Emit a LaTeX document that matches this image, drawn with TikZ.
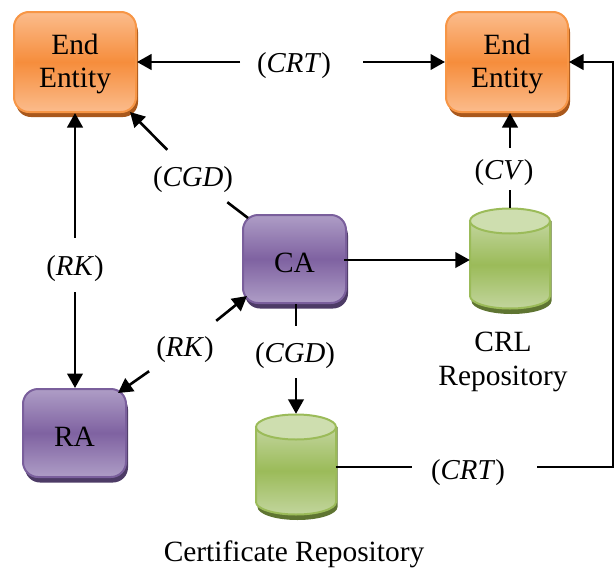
\documentclass[tikz,border=0pt]{standalone}
\usepackage{fontspec}
\setmainfont{Liberation Serif}
\usetikzlibrary{arrows.meta,shadows}
\definecolor{orL}{HTML}{FBBC8C}
\definecolor{orM}{HTML}{F68D3C}
\definecolor{orB}{HTML}{F79646}
\definecolor{orS}{HTML}{A9581C}
\definecolor{puL}{HTML}{AE9DC6}
\definecolor{puM}{HTML}{7F62A1}
\definecolor{puB}{HTML}{7A5F9C}
\definecolor{puS}{HTML}{4D3B66}
\definecolor{grL}{HTML}{C2D59D}
\definecolor{grM}{HTML}{9BBB59}
\definecolor{grB}{HTML}{9BBB59}
\definecolor{grT}{HTML}{CEDEAF}
\definecolor{grS}{HTML}{5F7532}
\pgfdeclareverticalshading{orshade}{100bp}{color(0bp)=(orL); color(25bp)=(orL); color(50bp)=(orM); color(75bp)=(orL); color(100bp)=(orL)}
\pgfdeclareverticalshading{pushade}{100bp}{color(0bp)=(puL); color(25bp)=(puL); color(50bp)=(puM); color(75bp)=(puL); color(100bp)=(puL)}
\pgfdeclareverticalshading{grshade}{100bp}{color(0bp)=(grL); color(25bp)=(grL); color(50bp)=(grM); color(75bp)=(grL); color(100bp)=(grL)}
\tikzset{
  base/.style={font=\fontsize{29.4}{33.5}\selectfont, align=center, text=black},
  box/.style={inner sep=0pt, rounded corners=15pt, line width=2pt},
  orbox/.style={box, draw=orB, shading=orshade, minimum width=122pt, minimum height=100pt,
    general shadow={shadow xshift=2pt, shadow yshift=-5pt, fill=orS}},
  pubox/.style={box, draw=puB, shading=pushade, minimum width=103pt, minimum height=88pt,
    general shadow={shadow xshift=2pt, shadow yshift=-5.5pt, fill=puS}},
  lab/.style={font=\fontsize{28.8}{33}\selectfont, text=black, inner sep=0pt, text height=20pt, text depth=0pt},
  repoframe/.style={inner sep=0pt, minimum width=80pt, minimum height=100pt},
  wire/.style={line width=2.6pt, draw=black},
  arr/.style={wire, -{Triangle[length=14.5pt,width=15.5pt]}},
}
\newcommand{\repoat}[3]{% name, x center, y top
  \fill[grS] (#2-38.5,#3+13) -- (#2+41.5,#3+13) -- (#2+41.5,#3+93) arc[start angle=0,end angle=180,x radius=40,y radius=13] -- cycle;
  \path[draw=grB, line width=2pt, shading=grshade] (#2-40,#3+13) -- (#2-40,#3+88) arc[start angle=180,end angle=0,x radius=40,y radius=12.5] -- (#2+40,#3+13) -- cycle;
  \path[draw=grB, fill=grT, line width=2pt] (#2,#3+13) ellipse[x radius=40,y radius=12.5];
  \node[repoframe] (#1) at (#2,#3+50) {};
}
\begin{document}
\begin{tikzpicture}[x=1pt,y=-1pt]
\useasboundingbox (0,0) rectangle (614,568);
\node[orbox, label={[base, name=ee1t, yshift=-2pt]center:{End\\Entity}}] (ee1) at (75,62) {};
\node[orbox, label={[base, name=ee2t, yshift=-2pt]center:{End\\Entity}}] (ee2) at (507,62) {};
\node[pubox, label={[base, name=cat, yshift=-3.5pt]center:CA}] (ca) at (294.5,259) {};
\node[pubox, label={[base, name=rat, yshift=-3.5pt]center:RA}] (ra) at (74.5,433) {};
\repoat{crl}{510}{208}
\repoat{cert}{296}{414}
\node[base] (crllab) at (503,362) {CRL\\Repository};
\node[base] (certlab) at (294,554) {Certificate Repository};
\node[lab] (crt1) at (294,62) {(\textit{CRT})};
\node[lab] (crt2) at (468,469) {(\textit{CRT})};
\node[lab, minimum height=54pt] (rk1) at (75,265) {(\textit{RK})};
\node[lab, minimum height=52pt] (cgd1) at (193,176) {(\textit{CGD})};
\node[lab, minimum width=74pt, minimum height=50pt] (rk2) at (185,346) {(\textit{RK})};
\node[lab, minimum height=52pt] (cgd2) at (295,352) {(\textit{CGD})};
\node[lab, minimum height=42pt] (cv) at (504,169) {(\textit{CV})};
\coordinate (crtA) at (240,62);
\coordinate (crtB) at (363,62);
\coordinate (crtC) at (412,467);
\coordinate (crtD) at (537,467);
\coordinate (bend1) at (613,467);
\coordinate (bend2) at (613,62);
\coordinate (ee1se) at (130,112);
\coordinate (canw) at (248,218);
\coordinate (casw) at (247,296);
\coordinate (rane) at (118,393);
\coordinate (wireca) at (344,260);
\draw[arr] (crtA) -- (ee1.east);
\draw[arr] (crtB) -- (ee2.west);
\draw[arr] (rk1) -- (ee1.south);
\draw[arr] (rk1) -- (ra.north -| rk1);
\draw[arr] (cgd1) -- (ee1se);
\draw[wire] (cgd1) -- (canw);
\draw[arr] (rk2) -- (casw);
\draw[arr] (rk2) -- (rane);
\draw[wire] (cgd2.north -| cert) -- (ca.south -| cert);
\draw[arr] (cgd2.south -| cert) -- (cert.north);
\draw[arr] (wireca) -- (crl.west |- wireca);
\draw[wire] (cv.south -| crl.north) -- (crl.north);
\draw[arr] (cv.north -| crl.north) -- (ee2.south -| crl.north);
\draw[wire] (cert.east |- crtC) -- (crtC);
\draw[arr] (crtD) -- (bend1) -- (bend2) -- (ee2.east);
\end{tikzpicture}
\end{document}
